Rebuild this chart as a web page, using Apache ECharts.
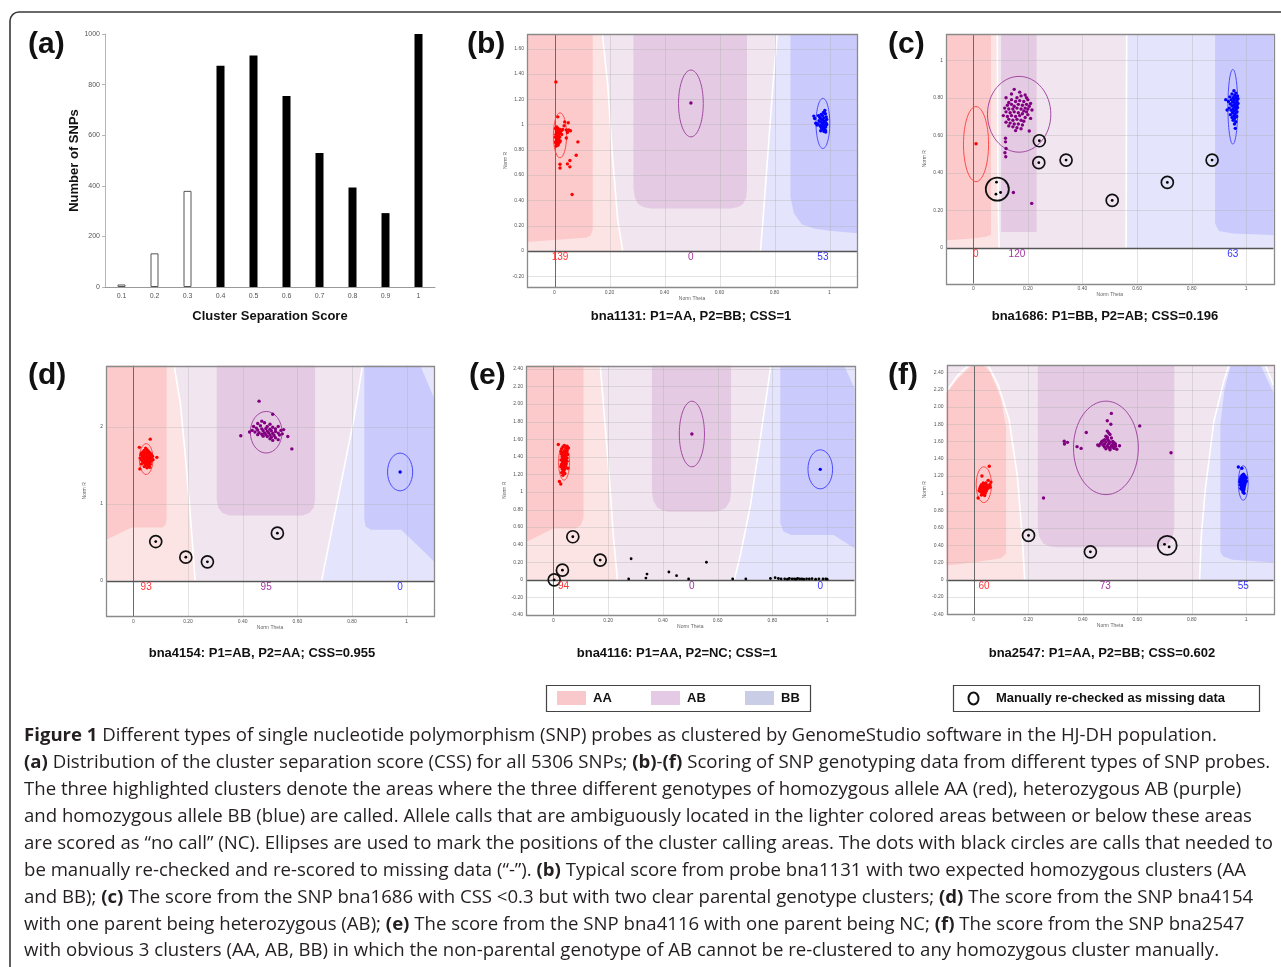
<!DOCTYPE html>
<html>
<head>
<meta charset="utf-8">
<script src="https://cdn.jsdelivr.net/npm/echarts@6/dist/echarts.min.js"></script>
<style>
html,body{margin:0;padding:0;background:#ffffff;}
#chart{width:1281px;height:967px;}
</style>
</head>
<body>
<div id="chart"></div>
<script>
// ======================= DATA =======================
// (a) distribution of the cluster separation score
const cssCategories = ['0.1','0.2','0.3','0.4','0.5','0.6','0.7','0.8','0.9','1'];
const cssCounts = [10, 133, 380, 875, 915, 755, 530, 393, 292, 1000];

// shared Norm Theta ticks
const thetaTickValues = [0, 0.2, 0.4, 0.6, 0.8, 1];
const thetaTickLabels = ['0', '0.20', '0.40', '0.60', '0.80', '1'];

// ---------- (b) bna1131 ----------
const bRTickValues = [-0.2, 0, 0.2, 0.4, 0.6, 0.8, 1, 1.2, 1.4, 1.6];
const bRTickLabels = ['-0.20', '0', '0.20', '0.40', '0.60', '0.80', '1', '1.20', '1.40', '1.60'];
const bAA = [[0.005,1.335],[0.012,1.06],[0.037,1.02],[0.05,1.014],[0.035,0.99],[0.03,0.96],[0.043,0.956],[0.052,0.956],[0.058,0.95],[0.047,0.937],[0.043,0.893],[0.085,0.862],[0.079,0.757],[0.056,0.715],[0.056,0.665],[0.047,0.688],[0.02,0.685],[0.02,0.656],[0.064,0.446],
  [0.008,0.98],[0.012,0.97],[0.006,0.96],[0.015,0.955],[0.01,0.95],[0.018,0.945],[0.007,0.94],[0.013,0.935],[0.009,0.93],[0.016,0.925],[0.005,0.92],[0.011,0.915],[0.014,0.91],[0.008,0.905],[0.017,0.9],[0.006,0.895],[0.012,0.89],[0.01,0.885],[0.015,0.88],[0.007,0.875],[0.013,0.87],[0.009,0.865],[0.016,0.86],[0.005,0.855],[0.011,0.85],[0.014,0.845],[0.008,0.84],[0.012,0.835],[0.006,0.83],[0.02,0.96],[0.022,0.93],[0.019,0.9],[0.021,0.87],[0.025,0.95],[0.018,0.86],[0.004,0.97],[0.003,0.9],[0.004,0.86],[0.026,0.92]];
const bAB = [[0.496,1.17]];
const bBB = [[0.943,1.066],[0.946,1.047],[0.983,1.11],[0.978,1.095],[0.985,1.085],[0.97,1.08],[0.96,1.07],[0.975,1.07],[0.988,1.06],[0.965,1.055],[0.98,1.05],[0.97,1.045],[0.99,1.04],[0.975,1.035],[0.962,1.03],[0.984,1.025],[0.968,1.02],[0.978,1.015],[0.988,1.01],[0.958,1.005],[0.972,1.0],[0.982,0.995],[0.966,0.99],[0.976,0.985],[0.986,0.98],[0.97,0.975],[0.98,0.97],[0.975,0.96],[0.985,0.955],[0.968,0.95],[0.98,0.945],[0.986,0.94],[0.955,0.995],[0.95,1.01],[0.99,1.0]];
const bNoCall = [];
const bMissing = [];
const bGroupDots = [];
const bGroupCircles = [];
const bEllipses = [[0.02,0.914,0.024,0.178],[0.496,1.166,0.045,0.264],[0.976,1.008,0.025,0.198]];
const bCounts = [[0.02,139],[0.496,0],[0.976,53]];
const bBoundAA = [[0.174,1.72],[0.194,1.30],[0.21,0.77],[0.23,0.243],[0.248,0]];
const bBoundBB = [[0.81,1.72],[0.794,1.30],[0.776,0.77],[0.758,0.243],[0.749,0]];
const bDarkAA = [[-0.1,0.07],[0.073,0.098],[0.115,0.105],[0.132,0.125],[0.139,0.17],[0.139,1.72],[-0.1,1.72]];
const bDarkAB = [[0.287,1.72],[0.287,0.50],[0.292,0.42],[0.305,0.37],[0.325,0.345],[0.35,0.335],[0.64,0.335],[0.665,0.345],[0.685,0.37],[0.697,0.42],[0.70,0.50],[0.70,1.72]];
const bDarkBB = [[0.858,1.72],[0.858,0.43],[0.87,0.30],[0.90,0.21],[0.945,0.177],[1.0,0.16],[1.1,0.14],[1.1,1.72]];

// ---------- (c) bna1686 ----------
const cRTickValues = [0, 0.2, 0.4, 0.6, 0.8, 1];
const cRTickLabels = ['0', '0.20', '0.40', '0.60', '0.80', '1'];
const cAA = [[0.01,0.555]];
const cAB = [[0.15,0.845],[0.12,0.80],[0.175,0.81],[0.19,0.815],[0.2,0.79],[0.21,0.77],[0.14,0.79],[0.16,0.80],[0.13,0.775],[0.155,0.78],[0.17,0.785],[0.185,0.78],[0.195,0.765],[0.205,0.755],[0.125,0.76],[0.14,0.765],[0.15,0.755],[0.165,0.765],[0.18,0.76],[0.19,0.745],[0.2,0.74],[0.215,0.735],[0.115,0.745],[0.13,0.74],[0.145,0.74],[0.16,0.745],[0.175,0.74],[0.185,0.73],[0.195,0.725],[0.12,0.725],[0.135,0.72],[0.15,0.725],[0.165,0.72],[0.18,0.715],[0.2,0.71],[0.11,0.705],[0.125,0.7],[0.14,0.705],[0.155,0.7],[0.17,0.705],[0.19,0.695],[0.13,0.685],[0.145,0.68],[0.16,0.685],[0.175,0.68],[0.185,0.675],[0.12,0.67],[0.135,0.665],[0.15,0.66],[0.165,0.66],[0.18,0.655],[0.145,0.645],[0.16,0.64],[0.13,0.65],[0.175,0.635],[0.155,0.625],[0.205,0.623],[0.118,0.584],[0.118,0.565],[0.12,0.53],[0.116,0.507],[0.119,0.486],[0.147,0.295],[0.214,0.237],[0.21,0.69],[0.17,0.83],[0.14,0.82],[0.195,0.8]];
const cBB = [[0.955,0.838],[0.962,0.825],[0.948,0.82],[0.958,0.812],[0.968,0.81],[0.94,0.805],[0.952,0.8],[0.962,0.798],[0.97,0.795],[0.945,0.79],[0.956,0.787],[0.966,0.783],[0.935,0.78],[0.95,0.777],[0.96,0.773],[0.97,0.77],[0.942,0.767],[0.955,0.763],[0.965,0.76],[0.948,0.757],[0.958,0.752],[0.968,0.748],[0.938,0.745],[0.952,0.742],[0.962,0.738],[0.945,0.733],[0.956,0.73],[0.966,0.725],[0.95,0.72],[0.96,0.715],[0.93,0.735],[0.942,0.71],[0.955,0.705],[0.965,0.7],[0.948,0.695],[0.958,0.69],[0.952,0.68],[0.962,0.672],[0.957,0.66],[0.96,0.637],[0.925,0.79]];
const cNoCall = [];
const cMissing = [[0.242,0.571],[0.24,0.454],[0.34,0.468],[0.509,0.253],[0.711,0.349],[0.875,0.468]];
const cGroupDots = [[0.085,0.35],[0.083,0.286],[0.1,0.295]];
const cGroupCircles = [[0.088,0.313]];
const cEllipses = [[0.01,0.553,0.046,0.2],[0.168,0.712,0.116,0.202],[0.951,0.752,0.018,0.199]];
const cCounts = [[0.009,0],[0.16,120],[0.951,63]];
const cBoundAA = [[0.088,1.14],[0.089,0.8],[0.09,0.4],[0.093,0.1],[0.095,0]];
const cBoundBB = [[0.562,1.14],[0.561,0.6],[0.56,0]];
const cDarkAA = [[-0.1,0.04],[0.0,0.05],[0.05,0.06],[0.065,0.07],[0.065,1.14],[-0.1,1.14]];
const cDarkAB = [[0.102,1.14],[0.102,0.085],[0.232,0.085],[0.232,1.14]];
const cDarkBB = [[0.886,1.14],[0.886,0.13],[0.9,0.09],[0.95,0.077],[1.1,0.069],[1.1,1.14]];

// ---------- (d) bna4154 ----------
const dRTickValues = [0, 1, 2];
const dRTickLabels = ['0', '1', '2'];
const dAA = [[0.062,1.836],[0.086,1.6],[0.022,1.73],[0.024,1.45],[0.045,1.72],[0.05,1.7],[0.04,1.69],[0.055,1.68],[0.035,1.67],[0.048,1.665],[0.06,1.66],[0.03,1.655],[0.042,1.65],[0.053,1.645],[0.065,1.64],[0.028,1.635],[0.038,1.63],[0.05,1.625],[0.06,1.62],[0.07,1.615],[0.033,1.61],[0.045,1.605],[0.055,1.6],[0.065,1.595],[0.025,1.59],[0.038,1.585],[0.05,1.58],[0.06,1.575],[0.072,1.57],[0.03,1.565],[0.043,1.56],[0.055,1.555],[0.065,1.55],[0.035,1.545],[0.048,1.54],[0.058,1.535],[0.04,1.525],[0.052,1.52],[0.03,1.515],[0.062,1.51],[0.045,1.5],[0.055,1.49],[0.04,1.48],[0.05,1.465],[0.06,1.47]];
const dAB = [[0.46,2.33],[0.51,2.16],[0.393,1.88],[0.58,1.71],[0.565,1.87],[0.55,1.96],[0.47,2.07],[0.455,2.04],[0.48,2.05],[0.5,2.03],[0.44,2.0],[0.465,2.01],[0.49,2.0],[0.51,1.99],[0.53,2.0],[0.45,1.98],[0.47,1.97],[0.485,1.975],[0.5,1.965],[0.52,1.97],[0.54,1.95],[0.435,1.95],[0.455,1.955],[0.475,1.945],[0.49,1.94],[0.505,1.945],[0.52,1.935],[0.445,1.93],[0.46,1.92],[0.48,1.915],[0.495,1.92],[0.51,1.91],[0.53,1.915],[0.47,1.9],[0.485,1.895],[0.5,1.89],[0.515,1.885],[0.535,1.89],[0.455,1.895],[0.49,1.87],[0.505,1.86],[0.52,1.855],[0.475,1.875],[0.5,1.84],[0.53,1.83],[0.51,1.82],[0.425,1.93],[0.545,1.905]];
const dBB = [[0.976,1.41]];
const dNoCall = [];
const dMissing = [[0.082,0.507],[0.192,0.304],[0.271,0.243],[0.527,0.615]];
const dGroupDots = [];
const dGroupCircles = [];
const dEllipses = [[0.047,1.578,0.025,0.2],[0.486,1.926,0.058,0.27],[0.976,1.41,0.046,0.245]];
const dCounts = [[0.047,93],[0.486,95],[0.976,0]];
const dBoundAA = [[0.149,2.8],[0.172,2.3],[0.19,1.63],[0.205,1.0],[0.216,0.5],[0.226,0]];
const dBoundBB = [[0.839,2.8],[0.805,2.06],[0.756,1.2],[0.72,0.55],[0.689,0]];
const dDarkAA = [[-0.1,0.53],[-0.006,0.69],[0.105,0.69],[0.118,0.72],[0.122,0.8],[0.122,2.8],[-0.1,2.8]];
const dDarkAB = [[0.305,2.8],[0.305,1.05],[0.31,0.95],[0.325,0.88],[0.35,0.845],[0.62,0.845],[0.645,0.88],[0.66,0.95],[0.665,1.05],[0.665,2.8]];
const dDarkBB = [[0.845,2.8],[1.049,2.8],[1.1,2.37],[1.1,0.25],[0.98,0.66],[0.87,0.66],[0.85,0.70],[0.845,0.80]];

// ---------- (e) bna4116 ----------
const efRTickValues = [-0.4,-0.2,0,0.2,0.4,0.6,0.8,1,1.2,1.4,1.6,1.8,2.0,2.2,2.4];
const efRTickLabels = ['-0.40','-0.20','0','0.20','0.40','0.60','0.80','1','1.20','1.40','1.60','1.80','2.00','2.20','2.40'];
const eAA = [[0.018,1.54],[0.04,1.53],[0.05,1.52],[0.035,1.51],[0.045,1.5],[0.03,1.49],[0.05,1.48],[0.04,1.47],[0.028,1.46],[0.048,1.455],[0.036,1.45],[0.044,1.44],[0.03,1.43],[0.052,1.425],[0.038,1.42],[0.046,1.41],[0.032,1.4],[0.042,1.395],[0.05,1.385],[0.035,1.38],[0.045,1.37],[0.028,1.365],[0.04,1.36],[0.05,1.35],[0.033,1.345],[0.043,1.34],[0.037,1.33],[0.047,1.32],[0.03,1.315],[0.04,1.31],[0.035,1.3],[0.045,1.295],[0.027,1.29],[0.038,1.28],[0.043,1.27],[0.032,1.26],[0.04,1.25],[0.036,1.235],[0.03,1.22],[0.042,1.21],[0.035,1.19],[0.053,1.27],[0.022,1.12],[0.027,1.09],[0.055,1.5]];
const eAB = [[0.506,1.659]];
const eBB = [[0.975,1.257]];
const eNoCall = [[0.284,0.24],[0.342,0.066],[0.338,0.02],[0.275,0.01],[0.422,0.089],[0.45,0.047],[0.494,0.01],[0.559,0.2],[0.655,0.01],[0.703,0.01],[0.793,0.015],[0.81,0.025],[0.822,0.015],[0.832,0.01],[0.845,0.012],[0.855,0.008],[0.862,0.015],[0.872,0.01],[0.88,0.012],[0.886,0.008],[0.892,0.015],[0.9,0.01],[0.908,0.012],[0.915,0.008],[0.925,0.012],[0.935,0.01],[0.945,0.013],[0.958,0.008],[0.97,0.012],[0.985,0.01],[0.995,0.012],[1.0,0.008]];
const eMissing = [[0.003,0.0],[0.033,0.11],[0.071,0.49],[0.171,0.225]];
const eGroupDots = [];
const eGroupCircles = [];
const eEllipses = [[0.039,1.337,0.02,0.203],[0.506,1.659,0.046,0.373],[0.975,1.257,0.045,0.222]];
const eCounts = [[0.037,94],[0.506,0],[0.975,0]];
const eBoundAA = [[0.171,2.45],[0.188,1.8],[0.207,1.04],[0.22,0.47],[0.234,0]];
const eBoundBB = [[0.795,2.45],[0.756,1.61],[0.72,0.85],[0.683,0.28],[0.661,0]];
const eDarkAA = [[-0.1,0.43],[0.0,0.585],[0.08,0.585],[0.1,0.62],[0.11,0.7],[0.11,2.45],[-0.1,2.45]];
const eDarkAB = [[0.36,2.45],[0.36,1.0],[0.365,0.9],[0.38,0.82],[0.4,0.79],[0.42,0.775],[0.59,0.775],[0.61,0.79],[0.63,0.82],[0.645,0.9],[0.649,1.0],[0.649,2.45]];
const eDarkBB = [[0.829,2.45],[1.06,2.45],[1.1,2.18],[1.1,0.36],[1.024,0.51],[0.87,0.51],[0.84,0.55],[0.829,0.65]];

// ---------- (f) bna2547 ----------
const fAA = [[0.057,1.313],[0.03,1.2],[0.016,0.946],[0.063,1.13],[0.06,1.07],[0.053,1.15],[0.035,1.12],[0.04,1.11],[0.028,1.1],[0.045,1.095],[0.033,1.09],[0.05,1.085],[0.025,1.08],[0.038,1.075],[0.047,1.07],[0.03,1.065],[0.042,1.06],[0.022,1.055],[0.035,1.05],[0.048,1.045],[0.028,1.04],[0.04,1.035],[0.032,1.03],[0.045,1.025],[0.025,1.02],[0.037,1.015],[0.03,1.005],[0.042,1.0],[0.035,0.99],[0.028,0.98],[0.04,0.975],[0.052,1.06],[0.058,1.1],[0.02,1.03],[0.045,1.12]];
const fAB = [[0.505,1.925],[0.49,1.84],[0.503,1.8],[0.609,1.78],[0.413,1.704],[0.332,1.603],[0.333,1.57],[0.344,1.59],[0.379,1.54],[0.394,1.52],[0.724,1.47],[0.256,0.946],[0.46,1.55],[0.48,1.62],[0.49,1.65],[0.525,1.51],[0.495,1.7],[0.5,1.68],[0.485,1.66],[0.505,1.64],[0.49,1.63],[0.475,1.61],[0.495,1.61],[0.51,1.6],[0.47,1.59],[0.485,1.595],[0.5,1.59],[0.515,1.585],[0.465,1.575],[0.48,1.57],[0.495,1.575],[0.51,1.565],[0.52,1.57],[0.475,1.555],[0.49,1.55],[0.505,1.55],[0.52,1.545],[0.48,1.535],[0.495,1.53],[0.51,1.535],[0.5,1.52],[0.485,1.515],[0.515,1.52],[0.5,1.505],[0.47,1.6],[0.455,1.56],[0.535,1.55],[0.49,1.72]];
const fBB = [[0.971,1.305],[0.984,1.29],[0.99,1.22],[0.985,1.21],[0.995,1.2],[0.98,1.19],[0.99,1.185],[1.0,1.18],[0.985,1.17],[0.995,1.165],[0.978,1.16],[0.99,1.155],[0.998,1.15],[0.983,1.145],[0.992,1.14],[0.976,1.135],[0.988,1.13],[0.997,1.125],[0.982,1.12],[0.993,1.115],[0.985,1.105],[0.995,1.1],[0.978,1.095],[0.99,1.09],[0.983,1.08],[0.993,1.075],[0.987,1.065],[0.98,1.055],[0.992,1.05],[0.985,1.04],[0.99,1.03],[0.988,1.015],[0.992,1.0],[0.98,1.11],[1.0,1.14]];
const fNoCall = [];
const fMissing = [[0.201,0.513],[0.428,0.323]];
const fGroupDots = [[0.7,0.41],[0.717,0.38]];
const fGroupCircles = [[0.71,0.397]];
const fEllipses = [[0.037,1.1,0.028,0.207],[0.485,1.526,0.119,0.541],[0.989,1.12,0.018,0.2]];
const fCounts = [[0.038,60],[0.483,73],[0.989,55]];
const fBoundAA = [[-0.1,2.18],[-0.06,2.36],[-0.02,2.48],[0.01,2.52],[0.05,2.5],[0.09,2.25],[0.13,1.85],[0.16,1.2],[0.178,0.5],[0.187,0]];
const fBoundBB = [[1.1,2.25],[1.065,2.52],[0.94,2.52],[0.917,2.29],[0.881,1.83],[0.85,1.05],[0.835,0.5],[0.829,0]];
const fDarkAA = [[-0.1,0.165],[0.0,0.2],[0.1,0.25],[0.119,0.3],[0.119,1.75],[0.1,2.1],[0.06,2.4],[0.03,2.5],[0.0,2.5],[-0.06,2.32],[-0.1,2.16]];
const fDarkAB = [[0.235,2.5],[0.235,0.6],[0.24,0.5],[0.255,0.42],[0.28,0.385],[0.31,0.377],[0.66,0.377],[0.69,0.385],[0.715,0.42],[0.73,0.5],[0.736,0.6],[0.736,2.5]];
const fDarkBB = [[0.905,0.32],[0.905,1.8],[0.92,2.2],[0.945,2.5],[1.05,2.5],[1.1,2.16],[1.1,0.2],[0.95,0.23],[0.915,0.27]];

// titles / text
const panelTitles = ['bna1131: P1=AA, P2=BB; CSS=1','bna1686: P1=BB, P2=AB; CSS=0.196','bna4154: P1=AB, P2=AA; CSS=0.955','bna4116: P1=AA, P2=NC; CSS=1','bna2547: P1=AA, P2=BB; CSS=0.602'];
const panelLetters = ['(a)','(b)','(c)','(d)','(e)','(f)'];
const legendGenotypes = ['AA','AB','BB'];
const legendMissingText = 'Manually re-checked as missing data';
const captionLines = [
 '*Figure 1* Different types of single nucleotide polymorphism (SNP) probes as clustered by GenomeStudio software in the HJ-DH population.',
 '*(a)* Distribution of the cluster separation score (CSS) for all 5306 SNPs; *(b)*-*(f)* Scoring of SNP genotyping data from different types of SNP probes.',
 'The three highlighted clusters denote the areas where the three different genotypes of homozygous allele AA (red), heterozygous AB (purple)',
 'and homozygous allele BB (blue) are called. Allele calls that are ambiguously located in the lighter colored areas between or below these areas',
 'are scored as \u201cno call\u201d (NC). Ellipses are used to mark the positions of the cluster calling areas. The dots with black circles are calls that needed to',
 'be manually re-checked and re-scored to missing data (\u201c-\u201d). *(b)* Typical score from probe bna1131 with two expected homozygous clusters (AA',
 'and BB); *(c)* The score from the SNP bna1686 with CSS <0.3 but with two clear parental genotype clusters; *(d)* The score from the SNP bna4154',
 'with one parent being heterozygous (AB); *(e)* The score from the SNP bna4116 with one parent being NC; *(f)* The score from the SNP bna2547',
 'with obvious 3 clusters (AA, AB, BB) in which the non-parental genotype of AB cannot be re-clustered to any homozygous cluster manually.'
];

// ======================= LAYOUT / STYLE =======================
const COL = {
  AAdark:'#fccaca', AAlight:'#fde4e4', ABdark:'#e4cae2', ABlight:'#f1e5f0', BBdark:'#cacafc', BBlight:'#e4e4fd',
  AApt:'#ff0000', ABpt:'#800080', BBpt:'#0000ff',
  AAell:'#ff4a4a', ABell:'#a24aa2', BBell:'#4a4aff',
  AAtxt:'#ff3535', ABtxt:'#a035a0', BBtxt:'#3535ff'
};
const panels = [
  {grid:{left:527, top:34, width:330, height:253}, ymin:-0.285, ymax:1.715, rTicks:bRTickValues, rLabels:bRTickLabels,
   AA:bAA, AB:bAB, BB:bBB, NC:bNoCall, miss:bMissing, gdots:bGroupDots, gcirc:bGroupCircles, ell:bEllipses, counts:bCounts,
   bndAA:bBoundAA, bndBB:bBoundBB, dAA:bDarkAA, dAB:bDarkAB, dBB:bDarkBB, gsize:22, title:[691,316], letter:[467,45]},
  {grid:{left:946, top:34, width:327.5, height:249.5}, ymin:-0.19, ymax:1.14, rTicks:cRTickValues, rLabels:cRTickLabels,
   AA:cAA, AB:cAB, BB:cBB, NC:cNoCall, miss:cMissing, gdots:cGroupDots, gcirc:cGroupCircles, ell:cEllipses, counts:cCounts,
   bndAA:cBoundAA, bndBB:cBoundBB, dAA:cDarkAA, dAB:cDarkAB, dBB:cDarkBB, gsize:23, title:[1105,316], letter:[888,45]},
  {grid:{left:106, top:365.7, width:328, height:250.3}, ymin:-0.46, ymax:2.79, rTicks:dRTickValues, rLabels:dRTickLabels,
   AA:dAA, AB:dAB, BB:dBB, NC:dNoCall, miss:dMissing, gdots:dGroupDots, gcirc:dGroupCircles, ell:dEllipses, counts:dCounts,
   bndAA:dBoundAA, bndBB:dBoundBB, dAA:dDarkAA, dAB:dDarkAB, dBB:dDarkBB, gsize:22, title:[262,653], letter:[28,376]},
  {grid:{left:526, top:365.7, width:328.5, height:249.3}, ymin:-0.4, ymax:2.436, rTicks:efRTickValues, rLabels:efRTickLabels,
   AA:eAA, AB:eAB, BB:eBB, NC:eNoCall, miss:eMissing, gdots:eGroupDots, gcirc:eGroupCircles, ell:eEllipses, counts:eCounts,
   bndAA:eBoundAA, bndBB:eBoundBB, dAA:eDarkAA, dAB:eDarkAB, dBB:eDarkBB, gsize:22, title:[677,653], letter:[469,376]},
  {grid:{left:946.5, top:365, width:327, height:249.3}, ymin:-0.4, ymax:2.485, rTicks:efRTickValues, rLabels:efRTickLabels,
   AA:fAA, AB:fAB, BB:fBB, NC:fNoCall, miss:fMissing, gdots:fGroupDots, gcirc:fGroupCircles, ell:fEllipses, counts:fCounts,
   bndAA:fBoundAA, bndBB:fBoundBB, dAA:fDarkAA, dAB:fDarkAB, dBB:fDarkBB, gsize:19, title:[1102,653], letter:[888,376]}
];
const X0 = -0.1, X1 = 1.1;
const SANS = 'Liberation Sans';

function labelFor(values, labels){
  return function(v){
    for (let i=0;i<values.length;i++){ if (Math.abs(values[i]-v) < 1e-6) return labels[i]; }
    return '';
  };
}

const grids = [{left:105, top:34, width:330, height:253}];
const xAxes = [{
  type:'category', gridIndex:0, data:cssCategories,
  axisLine:{lineStyle:{color:'#9a9a9a', width:1}}, axisTick:{show:false},
  axisLabel:{fontSize:7, color:'#555', margin:6, interval:0, fontFamily:SANS},
  name:'Cluster Separation Score', nameLocation:'middle', nameGap:23,
  nameTextStyle:{fontSize:13, fontWeight:'bold', color:'#111', fontFamily:SANS}
}];
const yAxes = [{
  type:'value', gridIndex:0, min:0, max:1000, interval:200,
  axisLine:{show:true, lineStyle:{color:'#b5b5b5', width:1}}, axisTick:{show:true, length:3, lineStyle:{color:'#b5b5b5'}},
  axisLabel:{fontSize:7, color:'#555', margin:5, fontFamily:SANS, formatter:(v)=>String(v)}, splitLine:{show:false},
  name:'Number of SNPs', nameLocation:'middle', nameGap:22,
  nameTextStyle:{fontSize:13, fontWeight:'bold', color:'#111', fontFamily:SANS}
}];
const series = [{
  type:'bar', xAxisIndex:0, yAxisIndex:0, barWidth:8,
  data: cssCounts.map((v,i)=>({value:v, itemStyle: parseFloat(cssCategories[i]) < 0.35
      ? {color:'#ffffff', borderColor:'#555', borderWidth:1}
      : {color:'#000000'}}))
}];

panels.forEach((p, k) => {
  const gi = k + 1;
  grids.push(p.grid);
  xAxes.push({
    type:'value', gridIndex:gi, min:X0, max:X1,
    axisLine:{show:false}, axisTick:{show:false}, splitLine:{show:false},
    axisLabel:{customValues:thetaTickValues, formatter:labelFor(thetaTickValues, thetaTickLabels), fontSize:5, color:'#555', margin:3, fontFamily:SANS},
    name:'Norm Theta', nameLocation:'middle', nameGap:7, nameTextStyle:{fontSize:5, color:'#666', fontFamily:SANS}
  });
  yAxes.push({
    type:'value', gridIndex:gi, min:p.ymin, max:p.ymax,
    axisLine:{show:false}, axisTick:{show:false}, splitLine:{show:false},
    axisLabel:{customValues:p.rTicks, formatter:labelFor(p.rTicks, p.rLabels), fontSize:5, color:'#555', margin:3, fontFamily:SANS},
    name:'Norm R', nameLocation:'middle', nameGap:19, nameTextStyle:{fontSize:5, color:'#666', fontFamily:SANS}
  });
  const YT = p.ymax;
  const regions = [
    {c:COL.ABlight, pts:[[X0,0],[X1,0],[X1,YT],[X0,YT]]},
    {c:COL.AAlight, pts:[[X0,0],[X0,YT]].concat(p.bndAA)},
    {c:COL.BBlight, pts:[[X1,0],[X1,YT]].concat(p.bndBB)},
    {c:COL.AAdark, pts:p.dAA},
    {c:COL.ABdark, pts:p.dAB},
    {c:COL.BBdark, pts:p.dBB}
  ];
  const base = {xAxisIndex:gi, yAxisIndex:gi, silent:true};
  series.push(Object.assign({}, base, {
    type:'custom', z:1, clip:true, data:regions.map(()=>[0,0]),
    renderItem:(params, api)=>{
      const r = regions[params.dataIndex];
      return {type:'polygon', shape:{points:r.pts.map(q=>api.coord(q))}, style:{fill:r.c, stroke:null}};
    }
  }));
  const bnds = [p.bndAA, p.bndBB];
  series.push(Object.assign({}, base, {
    type:'custom', z:2, clip:true, data:bnds.map(()=>[0,0]),
    renderItem:(params, api)=>({type:'polyline', shape:{points:bnds[params.dataIndex].map(q=>api.coord(q))}, style:{fill:null, stroke:'#ffffff', lineWidth:1.6}})
  }));
  // frame: grid lines, zero lines, border
  series.push(Object.assign({}, base, {
    type:'custom', z:3, clip:false, data:[[0,0]],
    renderItem:(params, api)=>{
      const cs = params.coordSys;
      const ch = [];
      const L = cs.x, R = cs.x + cs.width, T = cs.y, B = cs.y + cs.height;
      thetaTickValues.forEach(v=>{ if (v===0) return; const x = Math.round(api.coord([v,0])[0])+0.5;
        ch.push({type:'line', shape:{x1:x,y1:T,x2:x,y2:B}, style:{stroke:'rgba(175,175,175,0.35)', lineWidth:1}}); });
      p.rTicks.forEach(v=>{ if (Math.abs(v)<1e-9) return; const y = Math.round(api.coord([0,v])[1])+0.5;
        ch.push({type:'line', shape:{x1:L,y1:y,x2:R,y2:y}, style:{stroke:'rgba(175,175,175,0.35)', lineWidth:1}}); });
      const x0 = Math.round(api.coord([0,0])[0])+0.5, y0 = Math.round(api.coord([0,0])[1])+0.5;
      ch.push({type:'line', shape:{x1:x0,y1:T,x2:x0,y2:B}, style:{stroke:'#6a6a6a', lineWidth:1}});
      ch.push({type:'line', shape:{x1:L,y1:y0,x2:R,y2:y0}, style:{stroke:'#555', lineWidth:1.3}});
      ch.push({type:'rect', shape:{x:Math.round(L)+0.5, y:Math.round(T)+0.5, width:Math.round(cs.width), height:Math.round(cs.height)}, style:{fill:null, stroke:'#8a8a8a', lineWidth:1.3}});
      return {type:'group', children:ch};
    }
  }));
  const ellCol = [COL.AAell, COL.ABell, COL.BBell];
  series.push(Object.assign({}, base, {
    type:'custom', z:4, clip:true, data:p.ell,
    renderItem:(params, api)=>{
      const c = api.coord([api.value(0), api.value(1)]);
      const e = api.coord([api.value(0)+api.value(2), api.value(1)+api.value(3)]);
      return {type:'ellipse', shape:{cx:c[0], cy:c[1], rx:Math.abs(e[0]-c[0]), ry:Math.abs(e[1]-c[1])}, style:{fill:null, stroke:ellCol[params.dataIndex], lineWidth:1}};
    }
  }));
  [[p.AA, COL.AApt],[p.AB, COL.ABpt],[p.BB, COL.BBpt]].forEach(([d,c])=>{
    series.push(Object.assign({}, base, {type:'scatter', z:5, data:d, symbol:'circle', symbolSize:3.4, itemStyle:{color:c, opacity:1}}));
  });
  series.push(Object.assign({}, base, {type:'scatter', z:5, data:p.NC.concat(p.miss, p.gdots), symbol:'circle', symbolSize:2.8, itemStyle:{color:'#000', opacity:1}}));
  series.push(Object.assign({}, base, {type:'scatter', z:6, data:p.miss, symbol:'circle', symbolSize:12, itemStyle:{color:'rgba(0,0,0,0)', borderColor:'#111', borderWidth:1.7, opacity:1}}));
  series.push(Object.assign({}, base, {type:'scatter', z:6, data:p.gcirc, symbol:'circle', symbolSize:p.gsize, itemStyle:{color:'rgba(0,0,0,0)', borderColor:'#111', borderWidth:1.8, opacity:1}}));
  const cntCol = [COL.AAtxt, COL.ABtxt, COL.BBtxt];
  series.push(Object.assign({}, base, {
    type:'custom', z:7, clip:false, data:p.counts.map(c=>[c[0],0,c[1]]),
    renderItem:(params, api)=>{
      const pt = api.coord([api.value(0), 0]);
      return {type:'text', x:pt[0], y:pt[1]+1.5, style:{text:String(api.value(2)), fill:cntCol[params.dataIndex], fontSize:10, fontFamily:SANS, align:'center', verticalAlign:'top'}};
    }
  }));
});

// ---------------- graphics (letters, titles, legend, caption, frame) ----------------
const graphic = [];
graphic.push({type:'rect', shape:{x:10, y:12, width:1300, height:1000, r:9}, style:{fill:null, stroke:'#3a3a3a', lineWidth:1.6}, silent:true});
const letterPos = [[28,45]].concat(panels.map(p=>p.letter));
panelLetters.forEach((t,i)=>{
  graphic.push({type:'text', x:letterPos[i][0], y:letterPos[i][1], style:{text:t, fontSize:30, fontWeight:'bold', fontFamily:SANS, fill:'#111', align:'left', verticalAlign:'middle'}});
});
panels.forEach((p,i)=>{
  graphic.push({type:'text', x:p.title[0], y:p.title[1], style:{text:panelTitles[i], fontSize:13, fontWeight:'bold', fontFamily:SANS, fill:'#111', align:'center', verticalAlign:'middle'}});
});
// legend box 1
graphic.push({type:'rect', shape:{x:546.5, y:685.5, width:264, height:26}, style:{fill:'#fff', stroke:'#444', lineWidth:1.2}});
const swatchCols = ['#f9c8cb','#e5cae6','#cacde6'];
const swatchX = [557, 651, 745];
legendGenotypes.forEach((g,i)=>{
  graphic.push({type:'rect', shape:{x:swatchX[i], y:691, width:29, height:14}, style:{fill:swatchCols[i]}});
  graphic.push({type:'text', x:swatchX[i]+36, y:698.5, style:{text:g, fontSize:13, fontWeight:'bold', fontFamily:SANS, fill:'#111', align:'left', verticalAlign:'middle'}});
});
// legend box 2
graphic.push({type:'rect', shape:{x:953.5, y:685.5, width:306, height:26}, style:{fill:'#fff', stroke:'#444', lineWidth:1.2}});
graphic.push({type:'ellipse', shape:{cx:973.5, cy:698.5, rx:5, ry:6}, style:{fill:null, stroke:'#111', lineWidth:2}});
graphic.push({type:'text', x:996, y:698.5, style:{text:legendMissingText, fontSize:13, fontWeight:'bold', fontFamily:SANS, fill:'#111', align:'left', verticalAlign:'middle'}});

// caption
const CAP_FONT = 'Open Sans';
const capX = 24, capY0 = 736, capStep = 26.9;
const capEnds = [1224,1267,1268,1263,1270,1255,1260,1250,1225];
const mctx = document.createElement('canvas').getContext('2d');
function segs(line){ return line.split('*').map((t,i)=>({t:t, b:i%2===1})).filter(s=>s.t.length); }
function measure(line, size){ let w=0; segs(line).forEach(s=>{ mctx.font=(s.b?'bold ':'')+size+'px "'+CAP_FONT+'"'; w+=mctx.measureText(s.t).width; }); return w; }
let tgt=0, got=0;
captionLines.forEach((l,i)=>{ tgt += capEnds[i]-capX; got += measure(l, 18); });
let capSize = 18*tgt/got; capSize = Math.max(15, Math.min(20, capSize)) - 0.1;
captionLines.forEach((l,i)=>{
  const rich = segs(l).map(s=> s.b ? '{b|'+s.t+'}' : s.t).join('');
  graphic.push({type:'text', x:capX, y:capY0+i*capStep, style:{text:rich, fontSize:capSize, fontFamily:CAP_FONT, fill:'#231f20', align:'left', verticalAlign:'middle',
    rich:{b:{fontWeight:'bold', fontSize:capSize, fontFamily:CAP_FONT, fill:'#231f20'}}}});
});

const chart = echarts.init(document.getElementById('chart'), null, {renderer:'canvas', width:1281, height:967});
chart.setOption({
  animation:false, backgroundColor:'#ffffff',
  grid:grids, xAxis:xAxes, yAxis:yAxes, series:series, graphic:graphic
});
</script>
</body>
</html>
